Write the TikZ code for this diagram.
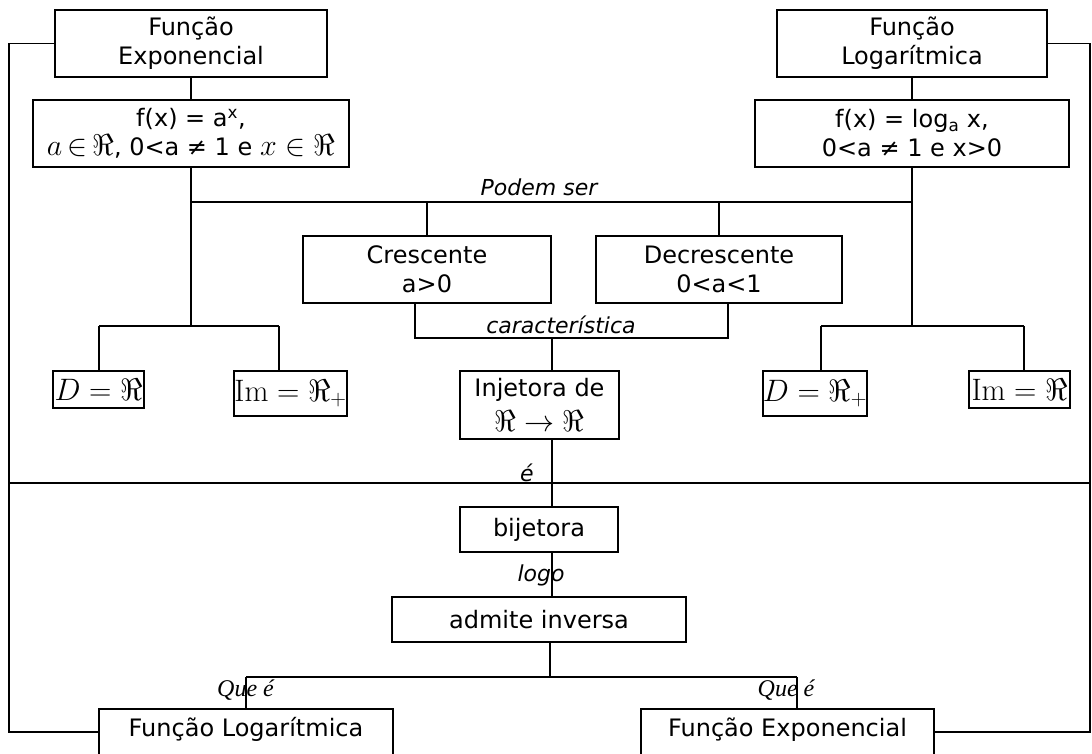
\RequirePackage{fix-cm}
\documentclass[tikz,border=0pt]{standalone}
\usepackage[no-math]{fontspec}
\setmainfont{DejaVu Sans}
\newfontfamily\tms{Liberation Serif}
\newcommand{\mymath}[1]{{\fontsize{30}{30}\selectfont$#1$}}
\tikzset{
  box/.style={draw, line width=1.6pt, inner sep=0pt, align=center, font=\fontsize{24}{29}\selectfont},
  mbox/.style={draw, line width=1.6pt, inner sep=0pt, align=center, font=\fontsize{31}{32}\selectfont},
  lbl/.style={font=\fontsize{22}{26}\selectfont\itshape, inner sep=0pt, anchor=base},
  tlbl/.style={font=\fontsize{24}{26}\selectfont\tms\itshape, inner sep=0pt, anchor=base},
  conn/.style={line width=1.6pt},
}
\begin{document}
\begin{tikzpicture}[x=1pt,y=-1pt]
\clip (0,0) rectangle (1092,754);
% boxes
\node[box, minimum width=272pt, minimum height=67pt] (FE) at (191,43.5) {Função\\Exponencial};
\node[box, minimum width=270pt, minimum height=67pt] (FL) at (912,43.5) {Função\\Logarítmica};
\node[box, minimum width=316pt, minimum height=67pt] (fexp) at (191,133.5) {f(x) = a\textsuperscript{x},\\\mymath{a\,{\in}\,\Re}, 0<a ≠ 1 e \mymath{x\in\Re}};
\node[box, minimum width=314pt, minimum height=67pt] (flog) at (912,133.5) {f(x) = log\textsubscript{a} x,\\0<a ≠ 1 e x>0};
\node[box, minimum width=248pt, minimum height=67pt] (cres) at (427,269.5) {Crescente\\a>0};
\node[box, minimum width=246pt, minimum height=67pt] (decr) at (719,269.5) {Decrescente\\0<a<1};
\node[mbox, minimum width=91pt, minimum height=37pt] (dL) at (98.5,389.5) {$D=\Re$};
\node[mbox, minimum width=113pt, minimum height=45pt] (imL) at (290.5,393.5) {$\mathrm{Im}=\Re_{+}$};
\node[box, minimum width=159pt, minimum height=68pt] (inj) at (539.5,405) {Injetora de\\[6pt]\mymath{\Re\to\Re}};
\node[mbox, minimum width=104pt, minimum height=45pt] (dR) at (815,393.5) {$D=\Re_{+}$};
\node[mbox, minimum width=101pt, minimum height=37pt] (imR) at (1019.5,389.5) {$\mathrm{Im}=\Re$};
\node[box, minimum width=158pt, minimum height=45pt] (bij) at (539,529.5) {bijetora};
\node[box, minimum width=294pt, minimum height=45pt] (adm) at (539,619.5) {admite inversa};
\node[box, minimum width=294pt, minimum height=46pt, text height=19pt, text depth=11pt] (FLb) at (246,732) {Função Logarítmica};
\node[box, minimum width=293pt, minimum height=46pt, text height=19pt, text depth=11pt] (FEb) at (787.5,732) {Função Exponencial};
% labels
\node[lbl] (podem) at (539,196) {Podem ser};
\node[lbl] (carac) at (561,333) {característica};
\node[lbl] (e1) at (527,481) {é};
\node[lbl] (logo) at (541,581) {logo};
\node[tlbl] (que1) at (245.5,696) {Que é};
\node[tlbl] (que2) at (786,696) {Que é};
% coordinates
\coordinate (cL1) at (9,43.5);
\coordinate (cL2) at (9,732);
\coordinate (cR1) at (1090,43.5);
\coordinate (cR2) at (1090,732);
\coordinate (hL) at (9,483);
\coordinate (hR) at (1090,483);
\coordinate (brL) at (191,326);
\coordinate (brL1) at (99,326);
\coordinate (brL2) at (279,326);
\coordinate (brR) at (912,326);
\coordinate (brR1) at (821,326);
\coordinate (brR2) at (1024,326);
\coordinate (pL) at (191,202);
\coordinate (pR) at (912,202);
\coordinate (pC) at (427,202);
\coordinate (pD) at (719,202);
\coordinate (kL) at (415,338);
\coordinate (kR) at (728,338);
\coordinate (kM) at (552,338);
\coordinate (qM) at (550,677);
\coordinate (qL) at (246,677);
\coordinate (qR) at (797,677);
% connectors
\draw[conn] (FE.west) -- (cL1) -- (cL2) -- (FLb.west);
\draw[conn] (FL.east) -- (cR1) -- (cR2) -- (FEb.east);
\draw[conn] (hL) -- (hR);
\draw[conn] (FE.south) -- (fexp.north);
\draw[conn] (FL.south) -- (flog.north);
\draw[conn] (fexp.south) -- (brL);
\draw[conn] (flog.south) -- (brR);
\draw[conn] (brL1) -- (brL2);
\draw[conn] (brR1) -- (brR2);
\draw[conn] (brL1) -- (brL1 |- dL.north);
\draw[conn] (brL2) -- (brL2 |- imL.north);
\draw[conn] (brR1) -- (brR1 |- dR.north);
\draw[conn] (brR2) -- (brR2 |- imR.north);
\draw[conn] (pL) -- (pR);
\draw[conn] (pC) -- (cres.north);
\draw[conn] (pD) -- (decr.north);
\draw[conn] (kL |- cres.south) -- (kL) -- (kR) -- (kR |- decr.south);
\draw[conn] (kM) -- (kM |- inj.north);
\draw[conn] (kM |- inj.south) -- (kM |- bij.north);
\draw[conn] (kM |- bij.south) -- (kM |- adm.north);
\draw[conn] (qM |- adm.south) -- (qM);
\draw[conn] (qL) -- (qR);
\draw[conn] (qL) -- (qL |- FLb.north);
\draw[conn] (qR) -- (qR |- FEb.north);
\end{tikzpicture}
\end{document}
